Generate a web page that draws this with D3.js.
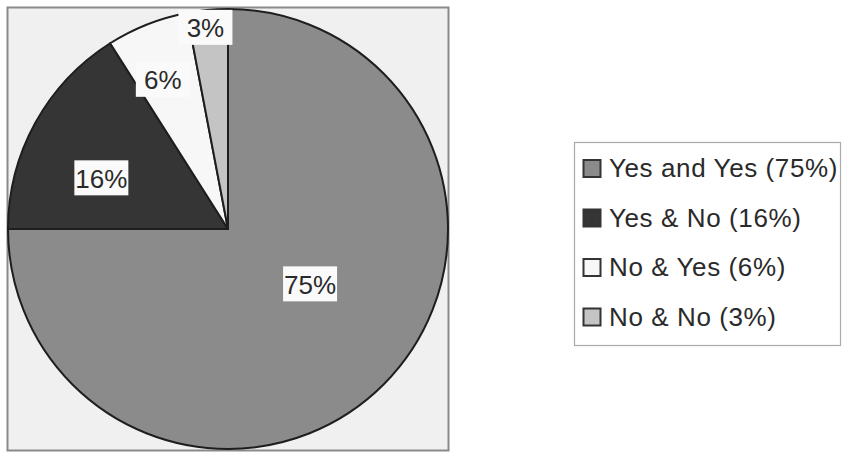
<!DOCTYPE html>
<html><head><meta charset="utf-8">
<script src="https://cdn.jsdelivr.net/npm/d3@7"></script>
<style>body{margin:0;background:#fff}svg{display:block}</style>
</head><body>
<svg id="c" width="845" height="453"></svg>
<script>
const categories = ["Yes and Yes", "Yes & No", "No & Yes", "No & No"];
const values = [75, 16, 6, 3];
const sliceColors = ["#8b8b8b", "#353535", "#f7f7f7", "#c4c4c4"];
// label placement (fraction of radius, angle nudge in degrees)
const labelLayout = [[0.45, -11], [0.62, -7], [0.74, -2], [0.92, -1]];

const svg = d3.select("#c");
const cx = 228, cy = 229, R = 220;

// plot area
svg.append("rect").attr("x", 7.5).attr("y", 7.5).attr("width", 441).attr("height", 443)
  .attr("fill", "#f0f0f0").attr("stroke", "#8a8a8a").attr("stroke-width", 2);

const pie = d3.pie().sort(null).value(d => d)
  .startAngle(0).endAngle(2 * Math.PI);
const arcs = pie(values);
const arc = d3.arc().innerRadius(0).outerRadius(R);
const g = svg.append("g").attr("transform", `translate(${cx},${cy})`);
g.selectAll("path.s").data(arcs).enter().append("path").attr("class", "s")
  .attr("d", arc).attr("fill", (d, i) => sliceColors[i])
  .attr("stroke", "#1e1e1e").attr("stroke-width", 2).attr("stroke-linejoin", "round");

// labels
const lab = g.selectAll("g.l").data(arcs).enter().append("g").attr("class", "l")
  .attr("transform", (d, i) => {
    const a = (d.startAngle + d.endAngle) / 2 + labelLayout[i][1] * Math.PI / 180;
    const r = labelLayout[i][0] * R;
    return `translate(${r * Math.sin(a)},${-r * Math.cos(a)})`;
  });
lab.append("rect").attr("x", -27).attr("y", -18).attr("width", 54).attr("height", 35)
  .attr("fill", "#fafafa").attr("stroke", "none");
lab.append("text").attr("text-anchor", "middle").attr("dy", "0.36em")
  .attr("font-family", "Liberation Sans, Arial, sans-serif").attr("font-size", 26)
  .attr("fill", "#2a2a2a").text(d => d.data + "%");

// legend
const lx = 574, ly = 142;
svg.append("rect").attr("x", lx + 0.5).attr("y", ly + 0.5).attr("width", 266).attr("height", 203)
  .attr("fill", "#fff").attr("stroke", "#aaa").attr("stroke-width", 1.2);
const leg = svg.selectAll("g.lg").data(categories).enter().append("g").attr("class", "lg")
  .attr("transform", (d, i) => `translate(${lx + 9},${ly + 26 + i * 49.5})`);
leg.append("rect").attr("x", 0.5).attr("y", -8).attr("width", 17).attr("height", 17)
  .attr("fill", (d, i) => sliceColors[i]).attr("stroke", "#333").attr("stroke-width", 2);
leg.append("text").attr("x", 26).attr("dy", "0.36em")
  .attr("font-family", "Liberation Sans, Arial, sans-serif").attr("font-size", 26)
  .attr("letter-spacing", 0.6).attr("fill", "#2a2a2a")
  .text((d, i) => `${d} (${values[i]}%)`);
</script>
</body></html>
